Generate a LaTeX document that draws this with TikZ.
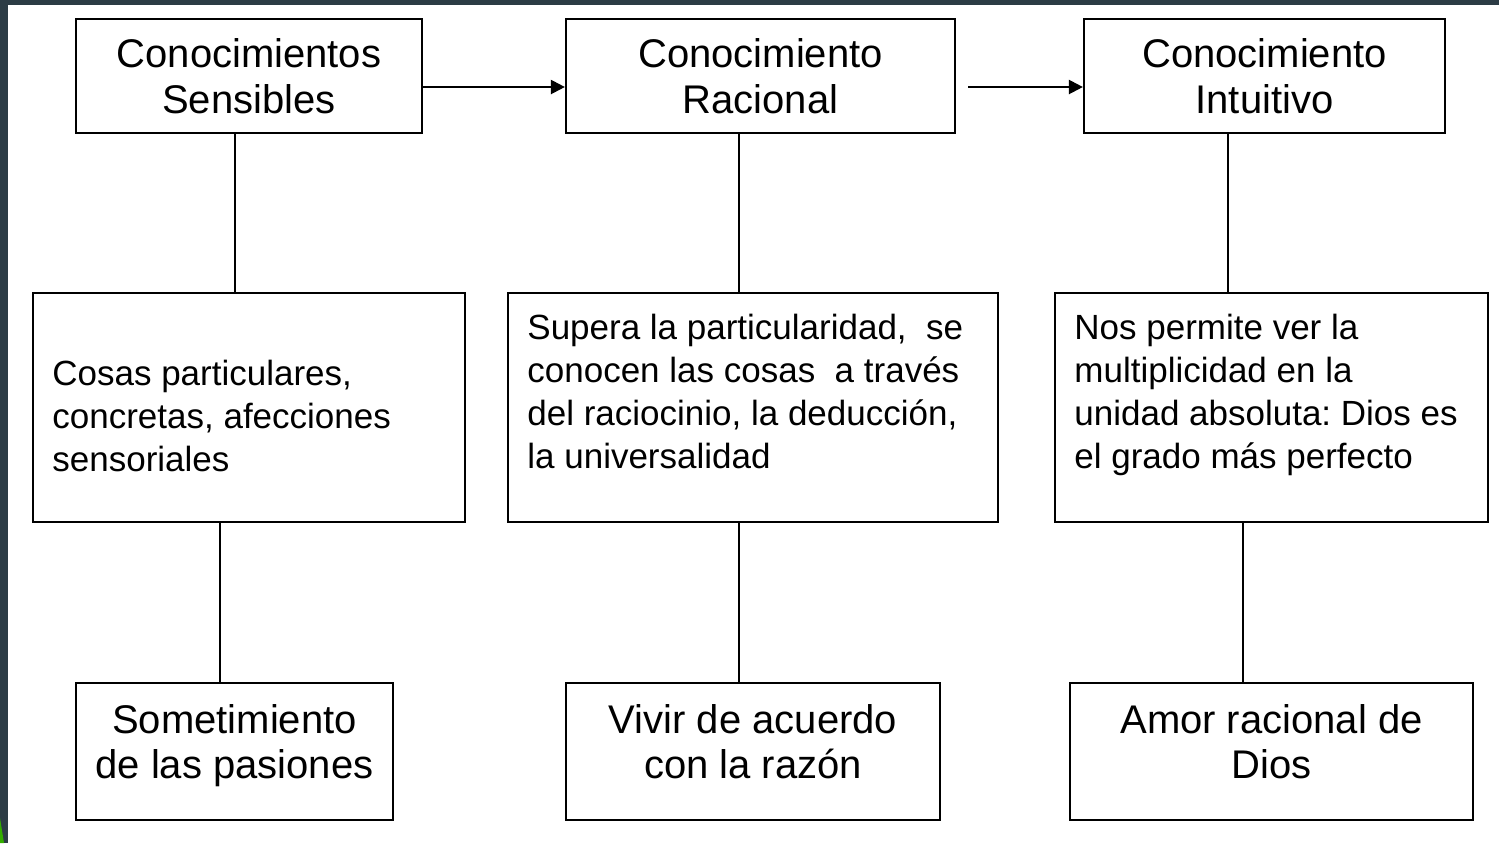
\documentclass[tikz,border=0pt]{standalone}
\usepackage{fontspec}
\setmainfont{Liberation Sans}
\usetikzlibrary{arrows.meta}
\definecolor{slate}{RGB}{44,60,69}
\tikzset{%
  box/.style   = {shape=rectangle, draw, line width=1.1pt, inner sep=0pt,%
                  align=center, font=\fontsize{20}{22.8}\selectfont},%
  body/.style  = {inner sep=0pt, align=left, anchor=north west,%
                  font=\fontsize{17.5}{21.5}\selectfont},%
  link/.style  = {line width=1.1pt},%
  flow/.style  = {link, -{Triangle[length=7pt,width=7pt]}}%
}
\begin{document}
\begin{tikzpicture}[x=0.5pt,y=-0.5pt]
	\useasboundingbox (0,0) rectangle (1499,843);
	\fill[white] (0,0) rectangle (1499,843);
	\fill[slate] (0,0) rectangle (1499,5);
	\fill[slate] (0,0) rectangle (8,843);
	\fill[green!60!black!80!yellow] (0,818) -- (4,843) -- (0,843) -- cycle;
	\node [box, minimum width=173pt, minimum height=57pt] (a1) at (249,76) {Conocimientos\\Sensibles};
	\node [box, minimum width=194.5pt, minimum height=57pt] (a2) at (760.5,76) {Conocimiento\\Racional};
	\node [box, minimum width=180.5pt, minimum height=57pt] (a3) at (1264.5,76) {Conocimiento\\Intuitivo};
	\node [box, minimum width=216pt, minimum height=114.5pt] (b1) at (249,407.5) {};
	\node [box, minimum width=245pt, minimum height=114.5pt] (b2) at (753,407.5) {};
	\node [box, minimum width=216.5pt, minimum height=114.5pt] (b3) at (1271.5,407.5) {};
	\node [body] (b1t) at (52,360) {Cosas particulares,\\concretas, afecciones\\sensoriales};
	\node [body] (b2t) at (527,314) {Supera la particularidad,\ \ se\\conocen las cosas\ \ a trav\'es\\del raciocinio, la deducci\'on,\\la universalidad};
	\node [body] (b3t) at (1074,314) {Nos permite ver la\\multiplicidad en la\\unidad absoluta:\ Dios es\\el grado m\'as perfecto};
	\node [box, minimum width=158.5pt, minimum height=68.5pt] (c1) at (234.5,751.5) {Sometimiento\\de las pasiones\\[-1.2ex]};
	\node [box, minimum width=187pt, minimum height=68.5pt] (c2) at (753,751.5) {Vivir de acuerdo\\con la raz\'on\\[-1.2ex]};
	\node [box, minimum width=201.5pt, minimum height=68.5pt] (c3) at (1271.5,751.5) {Amor racional de\\Dios\\[-1.2ex]};
	\coordinate (a2out) at (968,87);
	\draw [flow] ([yshift=-5.5pt]a1.east) -- ([yshift=-5.5pt]a2.west);
	\draw [flow] (a2out) -- (a2out -| a3.west);
	\draw [link] ([xshift=-7pt]a1.south) -- ([xshift=-7pt]a1.south |- b1.north);
	\draw [link] ([xshift=-14.5pt]b1.south) -- ([xshift=-14.5pt]b1.south |- c1.north);
	\draw [link] ([xshift=-10.75pt]a2.south) -- ([xshift=-10.75pt]a2.south |- b2.north);
	\draw [link] ([xshift=-7pt]b2.south) -- ([xshift=-7pt]b2.south |- c2.north);
	\draw [link] ([xshift=-18.25pt]a3.south) -- ([xshift=-18.25pt]a3.south |- b3.north);
	\draw [link] ([xshift=-14.25pt]b3.south) -- ([xshift=-14.25pt]b3.south |- c3.north);
\end{tikzpicture}
\end{document}
